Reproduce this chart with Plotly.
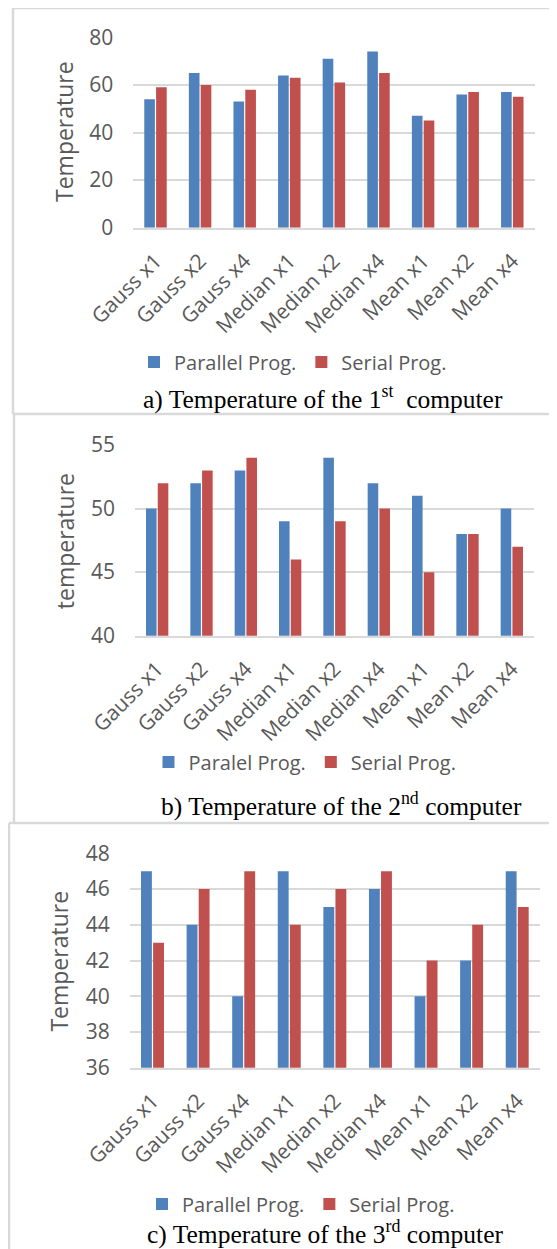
import plotly.graph_objects as go

W, H = 557, 1249
OFF = 8  # page body margin offset compensation

categories = ["Gauss x1", "Gauss x2", "Gauss x4", "Median x1", "Median x2",
              "Median x4", "Mean x1", "Mean x2", "Mean x4"]

# Panel a) 1st computer
p1_parallel = [54, 65, 53, 64, 71, 74, 47, 56, 57]
p1_serial = [59, 60, 58, 63, 61, 65, 45, 57, 55]
# Panel b) 2nd computer
p2_parallel = [50, 52, 53, 49, 54, 52, 51, 48, 50]
p2_serial = [52, 53, 54, 46, 49, 50, 45, 48, 47]
# Panel c) 3rd computer
p3_parallel = [47, 44, 40, 47, 45, 46, 40, 42, 47]
p3_serial = [43, 46, 47, 44, 46, 47, 42, 44, 45]

legend_names = [("Parallel Prog.", "Serial Prog."),
                ("Paralel Prog.", "Serial Prog."),
                ("Parallel Prog.", "Serial Prog.")]
y_titles = ["Temperature", "temperature", "Temperature"]
captions = ["a) Temperature of the 1<sup>st</sup>  computer",
            "b) Temperature of the 2<sup>nd</sup> computer",
            "c) Temperature of the 3<sup>rd</sup> computer"]
y_ranges = [(0, 80, 20), (40, 55, 5), (36, 48, 2)]

BLUE = "#4F81BD"
RED = "#C0504D"
TXT = "#595959"
GRID = "#D9D9D9"
FONT = "Open Sans, Calibri, sans-serif"
SERIF = "Liberation Serif, Times New Roman, serif"


def px(x):
    return (x - OFF) / W


def py(y):
    return 1 - (y - OFF) / H


# layout geometry in pixels: (x0, x1, ytop, ybottom)
plots = [(133.2, 534.6, 37.3, 227.7),
         (135.0, 534.0, 445.0, 635.7),
         (129.7, 540.0, 853.3, 1067.7)]
ytitle_pos = [(64, 132), (65.7, 541.5), (58.6, 961)]
legend_pos = [(293, 362), (305, 762), (301, 1204)]
caption_pos = [(323, 397), (341, 804), (325, 1232)]

series = [(p1_parallel, p1_serial), (p2_parallel, p2_serial), (p3_parallel, p3_serial)]

fig = go.Figure()
layout = {}
annotations = []
for i in range(3):
    sfx = "" if i == 0 else str(i + 1)
    xa, ya = "x" + sfx, "y" + sfx
    lg = "legend" + sfx
    par, ser = series[i]
    n1, n2 = legend_names[i]
    fig.add_trace(go.Bar(x=categories, y=par, name=n1, marker_color=BLUE,
                         xaxis=xa, yaxis=ya, legend=lg, marker_line_width=0))
    fig.add_trace(go.Bar(x=categories, y=ser, name=n2, marker_color=RED,
                         xaxis=xa, yaxis=ya, legend=lg, marker_line_width=0))
    x0, x1, yt, yb = plots[i]
    lo, hi, dt = y_ranges[i]
    layout["xaxis" + sfx] = dict(
        domain=[px(x0), px(x1)], anchor=ya, tickangle=-45, automargin=False,
        tickfont=dict(family=FONT, size=21, color=TXT), showgrid=False,
        showline=True, linecolor=GRID, linewidth=1.5, ticks="",
        ticklabelstandoff=11, fixedrange=True)
    layout["yaxis" + sfx] = dict(
        domain=[py(yb), py(yt)], anchor=xa, range=[lo, hi], dtick=dt, tick0=lo,
        automargin=False,
        tickfont=dict(family=FONT, size=21, color=TXT), showgrid=True,
        gridcolor=GRID, gridwidth=1.5, zeroline=False, showline=False,
        ticks="", ticklabelstandoff=19, fixedrange=True)
    lx, ly = legend_pos[i]
    layout[lg] = dict(orientation="h", x=px(lx), y=py(ly), xanchor="center",
                      yanchor="middle", font=dict(family=FONT, size=20, color=TXT),
                      bgcolor="rgba(0,0,0,0)", itemclick=False)
    tx, ty = ytitle_pos[i]
    annotations.append(dict(text=y_titles[i], x=px(tx), y=py(ty), xref="paper",
                            yref="paper", showarrow=False, textangle=-90,
                            font=dict(family=FONT, size=23, color=TXT),
                            xanchor="center", yanchor="middle"))
    cx, cy = caption_pos[i]
    annotations.append(dict(text=captions[i], x=px(cx), y=py(cy), xref="paper",
                            yref="paper", showarrow=False,
                            font=dict(family=SERIF, size=25.5, color="#000000"),
                            xanchor="center", yanchor="middle"))

shapes = []
border = dict(type="line", xref="paper", yref="paper",
              line=dict(color="#D9D9D9", width=2.5))
# panel borders (px coordinates)
for (xa0, ya0, xa1, ya1) in [(13, 8, 565, 8), (13, 8, 13, 414), (13, 414, 565, 414),
                             (14, 414, 14, 823), (9, 823, 565, 823), (9, 823, 9, 1257)]:
    s = dict(border)
    s.update(x0=px(xa0), y0=py(ya0), x1=px(xa1), y1=py(ya1))
    shapes.append(s)

fig.update_layout(
    width=W, height=H, margin=dict(l=0, r=0, t=0, b=0, autoexpand=False),
    paper_bgcolor="white", plot_bgcolor="white",
    barmode="group", bargap=0.47, bargroupgap=0.1,
    annotations=annotations, shapes=shapes, **layout)

fig.write_html("out.html")
